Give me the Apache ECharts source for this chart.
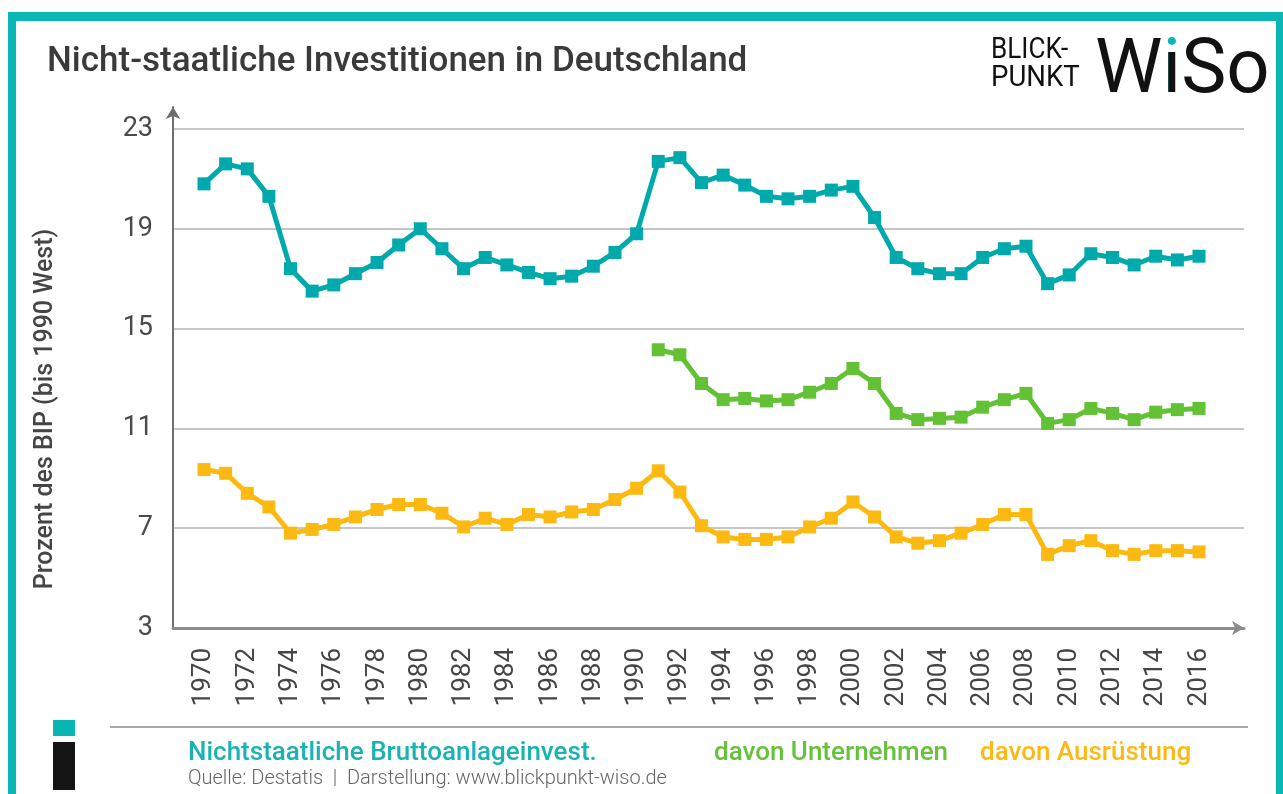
<!DOCTYPE html>
<html>
<head>
<meta charset="utf-8">
<style>
html,body{margin:0;padding:0;background:#fff;}
#chart{width:1283px;height:794px;}
</style>
<script src="https://cdn.jsdelivr.net/npm/echarts@6/dist/echarts.min.js"></script>
</head>
<body>
<div id="chart"></div>
<script>
// ---- data ----
const years = [1970,1971,1972,1973,1974,1975,1976,1977,1978,1979,
               1980,1981,1982,1983,1984,1985,1986,1987,1988,1989,
               1990,1991,1992,1993,1994,1995,1996,1997,1998,1999,
               2000,2001,2002,2003,2004,2005,2006,2007,2008,2009,
               2010,2011,2012,2013,2014,2015,2016];
const tickYears = [1970,1972,1974,1976,1978,1980,1982,1984,1986,1988,1990,1992,
                   1994,1996,1998,2000,2002,2004,2006,2008,2010,2012,2014,2016];
const yTicks = [3,7,11,15,19,23];
const seriesNames = ['Nichtstaatliche Bruttoanlageinvest.','davon Unternehmen','davon Ausrüstung'];
const gross = [20.8,21.6,21.4,20.3,17.4,16.5,16.75,17.2,17.65,18.35,
               19.0,18.2,17.4,17.85,17.55,17.25,17.0,17.1,17.5,18.05,
               18.8,21.7,21.85,20.85,21.15,20.75,20.3,20.2,20.3,20.55,
               20.7,19.45,17.85,17.4,17.2,17.2,17.85,18.2,18.3,16.8,
               17.15,18.0,17.85,17.55,17.9,17.75,17.9];
const firms = [null,null,null,null,null,null,null,null,null,null,
               null,null,null,null,null,null,null,null,null,null,
               null,14.15,13.95,12.8,12.15,12.2,12.1,12.15,12.45,12.8,
               13.4,12.8,11.6,11.35,11.4,11.45,11.85,12.15,12.4,11.2,
               11.35,11.8,11.6,11.35,11.65,11.75,11.8];
const equipment = [9.35,9.2,8.4,7.85,6.8,6.95,7.15,7.45,7.75,7.95,
                   7.95,7.6,7.05,7.4,7.15,7.55,7.45,7.65,7.75,8.15,
                   8.6,9.3,8.45,7.1,6.65,6.55,6.55,6.65,7.05,7.4,
                   8.05,7.45,6.65,6.4,6.5,6.8,7.15,7.55,7.55,5.95,
                   6.3,6.5,6.1,5.95,6.1,6.1,6.05];

const TEAL = '#00a9ab', GREEN = '#62c134', ORANGE = '#fcb912', FRAME = '#0ab7b6';
const FONT = 'Roboto';

function pairs(arr){ return years.map((y,i)=>[y, arr[i]]); }
function lineSeries(name, arr, color){
  return {
    name: name, type: 'line', data: pairs(arr), connectNulls: false,
    symbol: 'rect', symbolSize: 13, showSymbol: true,
    lineStyle: {color: color, width: 5},
    itemStyle: {color: color},
    emphasis: {disabled: true},
    animation: false, z: 3
  };
}
const legendText = {fontFamily: FONT, fontSize: 26, fontWeight: 500};

const chart = echarts.init(document.getElementById('chart'), null, {renderer: 'canvas'});
chart.setOption({
  backgroundColor: '#ffffff',
  animation: false,
  grid: {left: 173, right: 39, top: 107, bottom: 166, containLabel: false},
  xAxis: {
    type: 'value', min: 1968.567, max: 2018.08,
    axisLine: {show: true, lineStyle: {color: '#8c8c8c', width: 3},
               symbol: ['none','arrow'], symbolSize: [11, 12]},
    axisTick: {show: false, customValues: tickYears},
    splitLine: {show: false},
    axisLabel: {customValues: tickYears, rotate: 90, margin: 20,
                fontFamily: FONT, fontSize: 26, color: '#454545',
                formatter: v => String(v)}
  },
  yAxis: {
    type: 'value', min: 3, max: 23.88,
    axisLine: {show: true, lineStyle: {color: '#6e6e6e', width: 2},
               symbol: ['none','arrow'], symbolSize: [11, 12]},
    axisTick: {show: false, customValues: yTicks},
    axisLabel: {customValues: yTicks, margin: 20, fontFamily: FONT, fontSize: 27, color: '#4a4a4a'},
    splitLine: {show: true, lineStyle: {color: '#c6c6c6', width: 2}}
  },
  legend: [
    {data: [{name: seriesNames[0], textStyle: {color: '#1ab2b3'}}], left: 183, top: 740,
     icon: 'none', itemWidth: 0, selectedMode: false, padding: 0, textStyle: legendText},
    {data: [{name: seriesNames[1], textStyle: {color: '#66c23a'}}], left: 709, top: 740,
     icon: 'none', itemWidth: 0, selectedMode: false, padding: 0, textStyle: legendText},
    {data: [{name: seriesNames[2], textStyle: {color: '#fdb913'}}], left: 975, top: 740,
     icon: 'none', itemWidth: 0, selectedMode: false, padding: 0, textStyle: legendText}
  ],
  series: [
    lineSeries(seriesNames[0], gross, TEAL),
    lineSeries(seriesNames[1], firms, GREEN),
    lineSeries(seriesNames[2], equipment, ORANGE)
  ],
  graphic: [
    // frame
    {type: 'rect', shape: {x: 8, y: 12, width: 1275, height: 9}, style: {fill: FRAME}, silent: true},
    {type: 'rect', shape: {x: 8, y: 12, width: 8, height: 782}, style: {fill: FRAME}, silent: true},
    {type: 'rect', shape: {x: 1276, y: 12, width: 7, height: 782}, style: {fill: FRAME}, silent: true},
    // title
    {type: 'text', x: 47, y: 62, style: {text: 'Nicht-staatliche Investitionen in Deutschland',
      fontFamily: FONT, fontSize: 35, fontWeight: 500, fill: '#3a3a3a', verticalAlign: 'middle', align: 'left'}},
    // logo
    {type: 'text', x: 991, y: 51, scaleX: 0.9, style: {text: 'BLICK-', fontFamily: FONT, fontSize: 29,
      fill: '#111', verticalAlign: 'middle'}},
    {type: 'text', x: 991, y: 79, scaleX: 0.95, style: {text: 'PUNKT', fontFamily: FONT, fontSize: 29,
      fill: '#111', verticalAlign: 'middle'}},
    {type: 'text', x: 1095, y: 73, style: {text: '{t|W}{d|i}', rich: {t: {fontFamily: FONT, fontSize: 76, fontWeight: 400, fill: 'rgba(0,0,0,0)', color: 'rgba(0,0,0,0)'},
      d: {fontFamily: FONT, fontSize: 76, fontWeight: 400, fill: FRAME, color: FRAME}}, verticalAlign: 'middle'}, z: 10},
    {type: 'text', x: 1095, y: 73, style: {text: 'W\u0131So', fontFamily: FONT, fontSize: 76, fontWeight: 400,
      fill: '#111', verticalAlign: 'middle'}, z: 11},
    // y axis title
    {type: 'text', x: 46, y: 409, rotation: Math.PI/2, style: {text: 'Prozent des BIP (bis 1990 West)',
      fontFamily: FONT, fontSize: 25, fontWeight: 500, fill: '#454545', align: 'center', verticalAlign: 'middle'}},
    // footer
    {type: 'rect', shape: {x: 110, y: 726, width: 1138, height: 2}, style: {fill: '#a8a8a8'}, silent: true},
    {type: 'rect', shape: {x: 53, y: 720, width: 22, height: 16}, style: {fill: '#07b5b5'}, silent: true},
    {type: 'rect', shape: {x: 53, y: 742, width: 22, height: 48}, style: {fill: '#141414'}, silent: true},
    {type: 'text', x: 188, y: 779, style: {text: 'Quelle: Destatis  |  Darstellung: www.blickpunkt-wiso.de',
      fontFamily: FONT, fontSize: 20, fontWeight: 300, fill: '#666', verticalAlign: 'middle'}}
  ]
});
</script>
</body>
</html>
